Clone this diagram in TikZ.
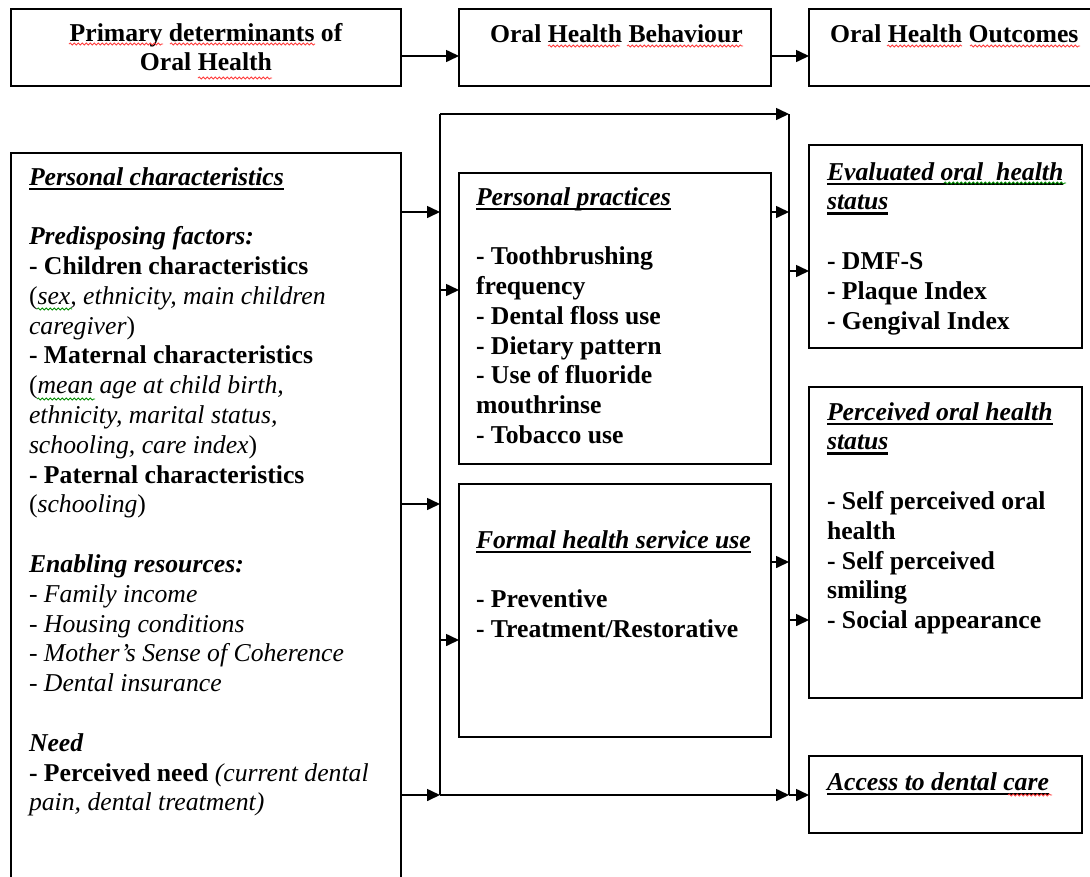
\documentclass[tikz,border=0pt]{standalone}
\usepackage{fontspec}
\setmainfont{Liberation Serif}
\usetikzlibrary{arrows.meta,decorations.pathmorphing}
\definecolor{spellred}{RGB}{255,60,60}
\definecolor{spellgreen}{RGB}{0,140,0}
\newsavebox\ulbox
\newcommand{\hd}[1]{\sbox\ulbox{\bfseries\itshape #1}\rlap{\rule[-5pt]{\wd\ulbox}{2.4pt}}\usebox\ulbox}
\begin{document}
\begin{tikzpicture}[x=1pt,y=-1pt,
  box/.style={draw, line width=1.6pt, anchor=north west, inner sep=0pt, outer sep=0pt},
  txt/.style={anchor=north west, inner sep=0pt, outer sep=0pt, align=left, yshift=20.86pt, font=\fontsize{25.7}{29.8}\selectfont},
  btxt/.style={txt, font=\fontsize{25.7}{29.8}\selectfont\bfseries},
  ctxt/.style={btxt, anchor=north, align=center},
  wire/.style={line width=1.6pt},
  arr/.style={wire, -{Triangle[length=13pt,width=12pt]}},
  wave/.style={draw=#1, line width=0.8pt, decorate, decoration={snake, amplitude=1.1pt, segment length=4pt}}
]
\useasboundingbox (0,0) rectangle (1090,876);
\fill[white] (0,0) rectangle (1090,876);
\clip (0,0) rectangle (1090,876);

% boxes
\node[box, minimum width=390pt, minimum height=77pt] (det) at (11,9) {};
\node[box, minimum width=312pt, minimum height=77pt] (beh) at (459,9) {};
\node[box, minimum width=300pt, minimum height=77pt] (out) at (809,9) {};
\node[box, minimum width=390pt, minimum height=760pt] (pc) at (11,153) {};
\node[box, minimum width=312pt, minimum height=291pt] (pp) at (459,173) {};
\node[box, minimum width=312pt, minimum height=253pt] (fh) at (459,484) {};
\node[box, minimum width=273pt, minimum height=203pt] (ev) at (809,145) {};
\node[box, minimum width=273pt, minimum height=311pt] (pe) at (809,387) {};
\node[box, minimum width=273pt, minimum height=77pt] (ac) at (809,756) {};

% texts
\node[ctxt] (tdet) at (206,41) {\strut Primary determinants of\\ Oral Health};
\node[btxt] (tbeh) at (490,42) {\strut Oral Health Behaviour};
\node[btxt] (tout) at (830,42) {\strut Oral Health Outcomes};

\node[txt] (tpc) at (29,185) {\strut\hd{Personal characteristics}\\
~\\
\textbf{\textit{Predisposing factors:}}\\
\textbf{- Children characteristics}\\
(\textit{sex, ethnicity, main children}\\
\textit{caregiver})\\
\textbf{- Maternal characteristics}\\
(\textit{mean age at child birth,}\\
\textit{ethnicity, marital status,}\\
\textit{schooling, care index})\\
\textbf{- Paternal characteristics}\\
(\textit{schooling})\\
~\\
\textbf{\textit{Enabling resources:}}\\
- \textit{Family income}\\
- \textit{Housing conditions}\\
- \textit{Mother’s Sense of Coherence}\\
- \textit{Dental insurance}\\
~\\
\textbf{\textit{Need}}\\
\textbf{- Perceived need} \textit{(current dental}\\
\textit{pain, dental treatment)}};

\node[btxt] (tpp) at (476,205) {\strut\hd{Personal practices}\\
~\\
- Toothbrushing\\
frequency\\
- Dental floss use\\
- Dietary pattern\\
- Use of fluoride\\
mouthrinse\\
- Tobacco use};

\node[btxt] (tfh) at (476,548) {\strut\hd{Formal health service use}\\
~\\
- Preventive\\
- Treatment/Restorative};

\node[btxt] (tev) at (827,180) {\strut\hd{Evaluated oral\ \ health}\\
\hd{status}\\
~\\
- DMF-S\\
- Plaque Index\\
- Gengival Index};

\node[btxt] (tpe) at (827,420) {\strut\hd{Perceived oral health}\\
\hd{status}\\
~\\
- Self perceived oral\\
health\\
- Self perceived\\
smiling\\
- Social appearance};

\node[btxt] (tac) at (827,790) {\strut\hd{Access to dental care}};

% bus coordinates
\coordinate (bl) at (440,114);
\coordinate (br) at (789,114);
\coordinate (blb) at (440,795);
\coordinate (brb) at (789,795);
\coordinate (t1) at (430,56);
\coordinate (a1) at (440,212);
\coordinate (a2) at (440,504);
\coordinate (b1) at (440,290);
\coordinate (b2) at (440,640);
\coordinate (c1) at (789,212);
\coordinate (c2) at (789,562);
\coordinate (d1) at (789,271);
\coordinate (d2) at (789,620);

% connectors
\draw[arr] (det.east |- t1) -- (beh.west |- t1);
\draw[arr] (beh.east |- t1) -- (out.west |- t1);
\draw[wire] (blb) -- (bl);
\draw[arr] (bl) -- (br);
\draw[wire] (br) -- (brb);
\draw[arr] (blb) -- (brb);
\draw[arr] (pc.east |- a1) -- (a1);
\draw[arr] (pc.east |- a2) -- (a2);
\draw[arr] (pc.east |- blb) -- (blb);
\draw[arr] (b1) -- (pp.west |- b1);
\draw[arr] (b2) -- (fh.west |- b2);
\draw[arr] (pp.east |- c1) -- (c1);
\draw[arr] (fh.east |- c2) -- (c2);
\draw[arr] (d1) -- (ev.west |- d1);
\draw[arr] (d2) -- (pe.west |- d2);
\draw[arr] (brb) -- (ac.west |- brb);

% spell-check marks
\draw[wave=spellred] (69,44) -- (163,44);
\draw[wave=spellred] (170,44) -- (315,44);
\draw[wave=spellred] (198,78) -- (272,78);
\draw[wave=spellred] (548,46) -- (620,46);
\draw[wave=spellred] (627,46) -- (743,46);
\draw[wave=spellred] (887,46) -- (962,46);
\draw[wave=spellred] (970,46) -- (1080,46);
\draw[wave=spellgreen] (37,309) -- (72,309);
\draw[wave=spellgreen] (37,399) -- (95,399);
\draw[wave=spellgreen] (944,183) -- (1066,183);
\draw[wave=spellred] (1008,795) -- (1052,795);
\end{tikzpicture}
\end{document}
